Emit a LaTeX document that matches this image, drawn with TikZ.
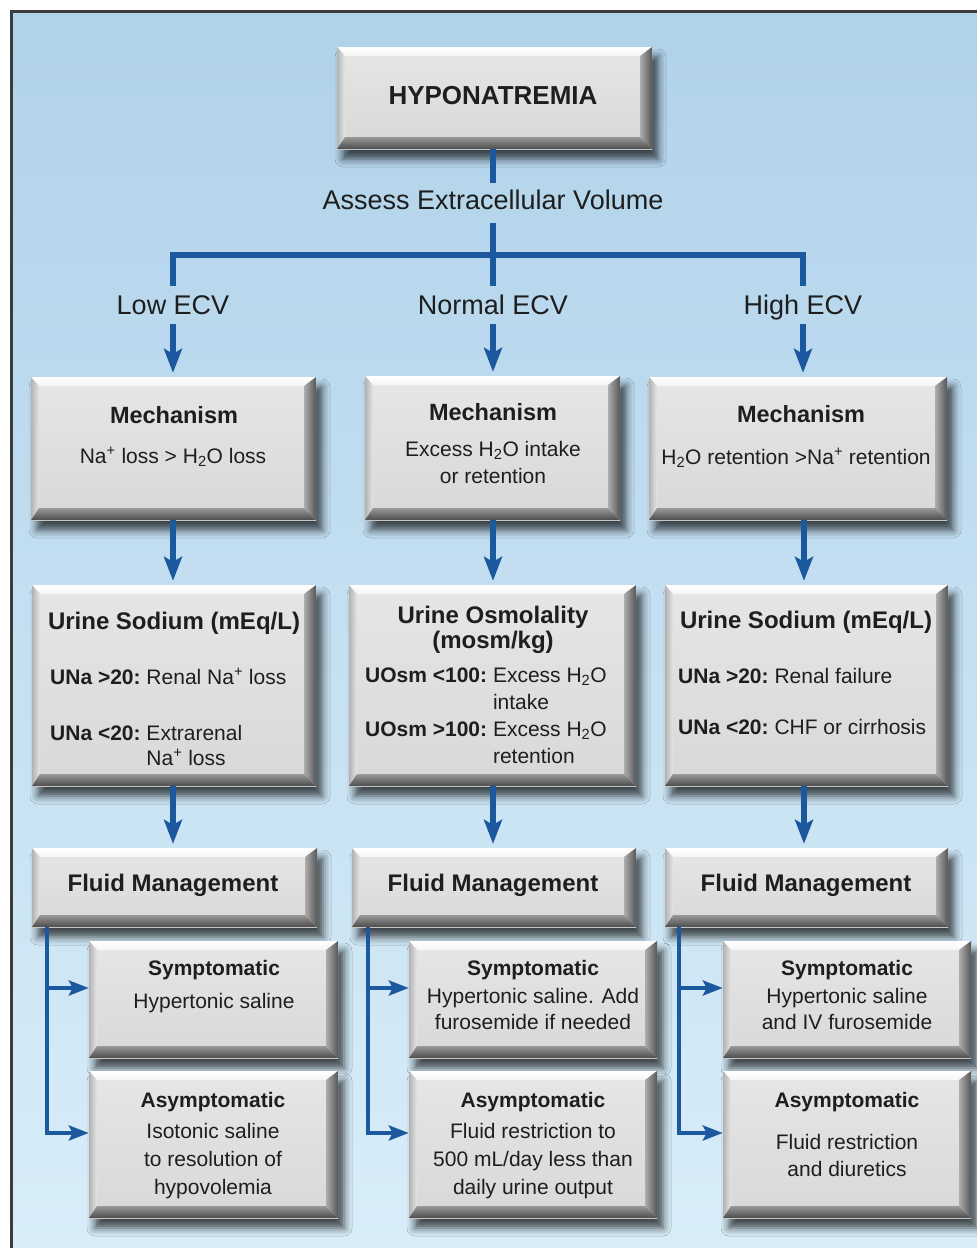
\documentclass[tikz,border=0pt]{standalone}
\usepackage{fontspec}
\setmainfont{Liberation Sans}
\usetikzlibrary{arrows.meta,shadows.blur,calc}
\definecolor{flowblue}{RGB}{28,88,158}
\definecolor{boxtop}{RGB}{230,230,230}
\definecolor{boxbot}{RGB}{216,216,216}
\definecolor{bgtop}{RGB}{176,210,234}
\definecolor{bgbot}{RGB}{216,237,248}
\definecolor{framegray}{RGB}{60,60,60}
\definecolor{txtcol}{RGB}{30,30,30}
\tikzset{
  box/.style={top color=boxtop, bottom color=boxbot, inner sep=0pt,
    blur shadow={shadow xshift=6pt, shadow yshift=-10pt, shadow blur radius=8pt, shadow opacity=70},
    path picture={
      \path (path picture bounding box.north west) coordinate (oNW)
            (path picture bounding box.north east) coordinate (oNE)
            (path picture bounding box.south west) coordinate (oSW)
            (path picture bounding box.south east) coordinate (oSE);
      \path ([shift={(8pt,-9pt)}]oNW) coordinate (iNW)
            ([shift={(-12pt,-9pt)}]oNE) coordinate (iNE)
            ([shift={(8pt,12pt)}]oSW) coordinate (iSW)
            ([shift={(-12pt,12pt)}]oSE) coordinate (iSE);
      \shade[top color=white, bottom color=white!60!boxtop] (oNW) -- (oNE) -- (iNE) -- (iNW) -- cycle;
      \shade[left color=black!30, right color=black!10] (oNW) -- (iNW) -- (iSW) -- (oSW) -- cycle;
      \shade[left color=black!32, right color=black!66] (oNE) -- (oSE) -- (iSE) -- (iNE) -- cycle;
      \shade[top color=black!40, bottom color=black!70] (oSW) -- (iSW) -- (iSE) -- (oSE) -- cycle;
    }},
  flow/.style={draw=flowblue, line width=6pt},
  arr/.style={draw=flowblue, line width=6pt, -{Stealth[length=24pt,width=18pt,inset=5pt]}, shorten >=4pt},
  br/.style={draw=flowblue, line width=4.5pt, -{Stealth[length=20pt,width=15pt,inset=4pt]}},
  ttl/.style={font=\fontsize{26}{28}\selectfont\bfseries, text=txtcol, inner sep=0pt},
  hdr/.style={font=\fontsize{24}{25}\selectfont\bfseries, text=txtcol, align=center, inner sep=0pt},
  mhdr/.style={font=\fontsize{23.5}{25}\selectfont\bfseries, text=txtcol, inner sep=0pt},
  shdr/.style={font=\fontsize{21}{25}\selectfont\bfseries, text=txtcol, inner sep=0pt},
  txt/.style={font=\fontsize{21}{#1}\selectfont, text=txtcol, align=center, inner sep=0pt},
  txt/.default=27,
  lbl/.style={font=\fontsize{27}{30}\selectfont, text=txtcol, text height=19.5pt, text depth=0pt, inner xsep=2pt, inner ysep=9pt, anchor=base},
  tab/.style={font=\fontsize{21}{#1}\selectfont, text=txtcol, inner sep=0pt, anchor=base west},
}
\begin{document}
\begin{tikzpicture}[x=1pt,y=-1pt]
\useasboundingbox (0,0) rectangle (977,1248);
% background
\fill[white] (0,0) rectangle (977,1248);
\shade[top color=bgtop, bottom color=bgbot] (11,11) rectangle (977,1248);
\draw[framegray, line width=3pt] (11,1248) -- (11,11) -- (977,11);

% column coordinates
\coordinate (cL) at (173,0);
\coordinate (cM) at (493,0);
\coordinate (cR) at (804,0);
\coordinate (bL) at (47,0);
\coordinate (bM) at (368,0);
\coordinate (bR) at (679,0);

% boxes
\node[box, minimum width=315pt, minimum height=102pt] (top) at (494.5,98) {};
\node[box, minimum width=285pt, minimum height=143pt] (mL) at (173.5,448.5) {};
\node[box, minimum width=255pt, minimum height=144pt] (mM) at (492.5,448) {};
\node[box, minimum width=298pt, minimum height=143pt] (mR) at (798,448.5) {};
\node[box, minimum width=284pt, minimum height=201pt] (uL) at (174,685.5) {};
\node[box, minimum width=287pt, minimum height=201pt] (uM) at (492.5,685.5) {};
\node[box, minimum width=283pt, minimum height=201pt] (uR) at (806.5,685.5) {};
\node[box, minimum width=285pt, minimum height=79pt] (fL) at (174.5,887.5) {};
\node[box, minimum width=284pt, minimum height=79pt] (fM) at (494,887.5) {};
\node[box, minimum width=283pt, minimum height=79pt] (fR) at (806.5,887.5) {};
\node[box, minimum width=249pt, minimum height=117pt] (sL) at (213.5,999.5) {};
\node[box, minimum width=248pt, minimum height=117pt] (sM) at (533,999.5) {};
\node[box, minimum width=248pt, minimum height=117pt] (sR) at (847,999.5) {};
\node[box, minimum width=249pt, minimum height=147pt] (aL) at (213.5,1144.5) {};
\node[box, minimum width=248pt, minimum height=147pt] (aM) at (533,1144.5) {};
\node[box, minimum width=248pt, minimum height=147pt] (aR) at (847,1144.5) {};

% top labels
\node[ttl] (topt) at (493,96) {HYPONATREMIA};
\node[lbl, text depth=6pt, inner ysep=7pt] (assess) at (493,209.7) {Assess Extracellular Volume};
\node[lbl] (low) at (173,314.7) {Low ECV};
\node[lbl] (normal) at (493,314.7) {Normal ECV};
\node[lbl] (high) at (803,314.7) {High ECV};

% tree connectors
\coordinate (jM) at (493,255);
\draw[flow] (assess.north |- top.south) -- (assess.north);
\draw[flow] (assess.south) -- (jM);
\draw[flow] (low.north) |- (jM) -| (high.north);
\draw[flow] (jM) -- (normal.north);
\draw[arr] (low.south) -- (low.south |- mL.north);
\draw[arr] (normal.south) -- (normal.south |- mM.north);
\draw[arr] (high.south) -- (high.south |- mR.north);

% mechanism -> urine -> fluid
\draw[arr] (cL |- mL.south) -- (cL |- uL.north);
\draw[arr] (cM |- mM.south) -- (cM |- uM.north);
\draw[arr] (cR |- mR.south) -- (cR |- uR.north);
\draw[arr] (cL |- uL.south) -- (cL |- fL.north);
\draw[arr] (cM |- uM.south) -- (cM |- fM.north);
\draw[arr] (cR |- uR.south) -- (cR |- fR.north);

% branches
\draw[br] (bL |- fL.south) |- ([yshift=11.5pt]sL.west);
\draw[br] (bL |- fL.south) |- ([yshift=11.5pt]aL.west);
\draw[br] (bM |- fM.south) |- ([yshift=11.5pt]sM.west);
\draw[br] (bM |- fM.south) |- ([yshift=11.5pt]aM.west);
\draw[br] (bR |- fR.south) |- ([yshift=11.5pt]sR.west);
\draw[br] (bR |- fR.south) |- ([yshift=11.5pt]aR.west);

% mechanism texts
\node[mhdr] (mLh) at (174,415) {Mechanism};
\node[txt] (mLb) at (173,457) {Na\textsuperscript{+} loss > H\textsubscript{2}O loss};
\node[mhdr] (mMh) at (493,412) {Mechanism};
\node[txt] (mMb) at (493,462) {Excess H\textsubscript{2}O intake\\or retention};
\node[mhdr] (mRh) at (801,414) {Mechanism};
\node[txt] (mRb) at (796,458) {H\textsubscript{2}O retention >Na\textsuperscript{+} retention};

% urine texts
\node[hdr] (uLh) at (174,623) {Urine Sodium (mEq/L)};
\node[tab=25] (uLb) at (50,684.5) {\begin{tabular}[t]{@{}l@{\ }l@{}}\textbf{UNa >20:} & Renal Na\textsuperscript{+} loss\\[31pt] \textbf{UNa <20:} & Extrarenal\\ & Na\textsuperscript{+} loss\end{tabular}};
\node[hdr] (uMh) at (493,630) {Urine Osmolality\\(mosm/kg)};
\node[tab=27] (uMb) at (365,682.5) {\begin{tabular}[t]{@{}l@{\ }l@{}}\textbf{UOsm <100:} & Excess H\textsubscript{2}O\\ & intake\\ \textbf{UOsm >100:} & Excess H\textsubscript{2}O\\ & retention\end{tabular}};
\node[hdr] (uRh) at (806,622) {Urine Sodium (mEq/L)};
\node[tab=25] (uRb) at (678,683.5) {\begin{tabular}[t]{@{}l@{\ }l@{}}\textbf{UNa >20:} & Renal failure\\[26pt] \textbf{UNa <20:} & CHF or cirrhosis\end{tabular}};

% fluid management
\node[hdr] (fLh) at (173,885) {Fluid Management};
\node[hdr] (fMh) at (493,885) {Fluid Management};
\node[hdr] (fRh) at (806,885) {Fluid Management};

% symptomatic
\node[shdr] (sLh) at (214,970) {Symptomatic};
\node[txt] (sLb) at (214,1003) {Hypertonic saline};
\node[shdr] (sMh) at (533,970) {Symptomatic};
\node[txt=26] (sMb) at (533,1009) {Hypertonic saline. Add\\furosemide if needed};
\node[shdr] (sRh) at (847,970) {Symptomatic};
\node[txt=26] (sRb) at (847,1009) {Hypertonic saline\\and IV furosemide};

% asymptomatic
\node[shdr] (aLh) at (213,1102) {Asymptomatic};
\node[txt=28] (aLb) at (213,1161) {Isotonic saline\\to resolution of\\hypovolemia};
\node[shdr] (aMh) at (533,1102) {Asymptomatic};
\node[txt=28] (aMb) at (533,1161) {Fluid restriction to\\500 mL/day less than\\daily urine output};
\node[shdr] (aRh) at (847,1102) {Asymptomatic};
\node[txt=27] (aRb) at (847,1155) {Fluid restriction\\and diuretics};
\end{tikzpicture}
\end{document}
